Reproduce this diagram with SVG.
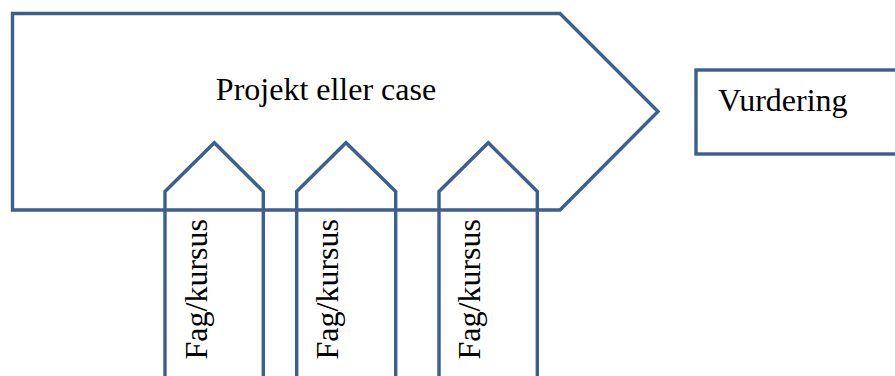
<svg xmlns="http://www.w3.org/2000/svg" width="895" height="376" viewBox="0 0 895 376">
<style>
.s{fill:none;stroke:#3b5f8f;stroke-width:3.4;stroke-linejoin:miter}
.t{font-family:"Liberation Serif","Times New Roman",serif;font-size:32px;fill:#000}
</style>
<rect width="895" height="376" fill="#fff"/>
<g id="projekt">
<polygon class="s" points="12.5,13.5 560,13.5 658,111.5 560,210 12.5,210"/>
<text class="t" x="326" y="100" text-anchor="middle">Projekt eller case</text>
</g>
<g id="vurdering">
<rect class="s" x="696" y="70" width="220" height="84"/>
<text class="t" x="718" y="111">Vurdering</text>
</g>
<g id="fag1">
<polyline class="s" points="165,380 165,191.5 214.3,142.7 263.3,191.5 263.3,380"/>
<text class="t" transform="translate(206.5,359.5) rotate(-90)">Fag/kursus</text>
</g>
<g id="fag2">
<polyline class="s" points="296.7,380 296.7,191.5 346,142.7 395.7,191.5 395.7,380"/>
<text class="t" transform="translate(338.3,359.5) rotate(-90)">Fag/kursus</text>
</g>
<g id="fag3">
<polyline class="s" points="439,380 439,191.5 488.3,142.7 537.3,191.5 537.3,380"/>
<text class="t" transform="translate(480.3,359.5) rotate(-90)">Fag/kursus</text>
</g>
<g id="connectors"></g>
</svg>
